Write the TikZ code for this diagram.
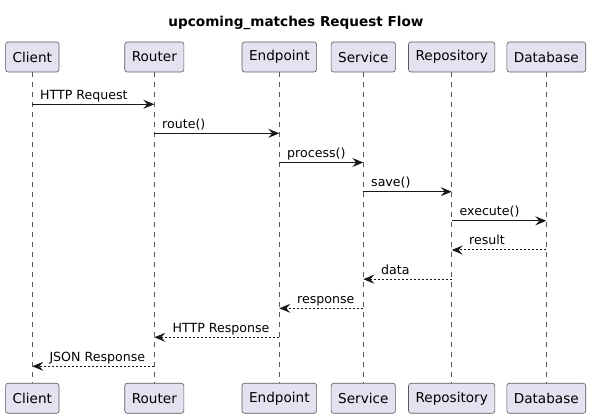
\documentclass[tikz,border=0pt]{standalone}
\usepackage{fontspec}
\setmainfont{DejaVu Sans}
\usetikzlibrary{arrows.meta}
\definecolor{partfill}{HTML}{E2E2F0}
\definecolor{ink}{HTML}{181818}
\definecolor{thin}{HTML}{5A5A5A}
\tikzset{
  part/.style={draw=thin, line width=0.6pt, fill=partfill, rounded corners=2.5pt,
    minimum height=30pt, inner xsep=7pt, inner ysep=0pt, font=\fontsize{13.6}{16}\selectfont},
  life/.style={draw=thin, line width=0.5pt, dash pattern=on 5pt off 5pt},
  msg/.style={draw=ink, line width=1pt, -{Stealth[length=11pt,width=9pt,inset=4pt]}},
  ret/.style={msg, dash pattern=on 2pt off 2pt},
  lbl/.style={anchor=base west, inner sep=0pt, font=\fontsize{12.6}{15}\selectfont}
}
\begin{document}
\begin{tikzpicture}[x=1pt,y=-1pt]
\useasboundingbox (0,0) rectangle (592,419);
\node[font=\bfseries\fontsize{13.6}{16}\selectfont, anchor=base, inner sep=0pt] (title) at (296,27) {upcoming\_matches Request Flow};
% top participants
\node[part] (cT) at (32.3,57) {Client};
\node[part] (rT) at (154.3,57) {Router};
\node[part] (eT) at (279.3,57) {Endpoint};
\node[part] (sT) at (363.3,57) {Service};
\node[part] (pT) at (451.7,57) {Repository};
\node[part] (dT) at (546.3,57) {Database};
% bottom participants
\node[part] (cB) at (32.3,398.3) {Client};
\node[part] (rB) at (154.3,398.3) {Router};
\node[part] (eB) at (279.3,398.3) {Endpoint};
\node[part] (sB) at (363.3,398.3) {Service};
\node[part] (pB) at (451.7,398.3) {Repository};
\node[part] (dB) at (546.3,398.3) {Database};
% lifelines
\foreach \a in {c,r,e,s,p,d}{
  \draw[life] (\a T.south) -- (\a B.north);
}
% messages
\draw[msg] (cT |- 0,104.3) -- (rT |- 0,104.3);
\node[lbl] (m1) at (40,99.3) {HTTP Request};
\draw[msg] (rT |- 0,133.3) -- (eT |- 0,133.3);
\node[lbl] (m2) at (162,128.3) {route()};
\draw[msg] (eT |- 0,162.5) -- (sT |- 0,162.5);
\node[lbl] (m3) at (287,157.5) {process()};
\draw[msg] (sT |- 0,191.7) -- (pT |- 0,191.7);
\node[lbl] (m4) at (371,186.7) {save()};
\draw[msg] (pT |- 0,220.8) -- (dT |- 0,220.8);
\node[lbl] (m5) at (459.5,215.8) {execute()};
\draw[ret] (dT |- 0,250) -- (pT |- 0,250);
\node[lbl] (m6) at (469,245) {result};
\draw[ret] (pT |- 0,279.2) -- (sT |- 0,279.2);
\node[lbl] (m7) at (381,274.2) {data};
\draw[ret] (sT |- 0,308.3) -- (eT |- 0,308.3);
\node[lbl] (m8) at (297,303.3) {response};
\draw[ret] (eT |- 0,337.3) -- (rT |- 0,337.3);
\node[lbl] (m9) at (172.5,332.3) {HTTP Response};
\draw[ret] (rT |- 0,366.3) -- (cT |- 0,366.3);
\node[lbl] (m10) at (49.3,361.3) {JSON Response};
\end{tikzpicture}
\end{document}
